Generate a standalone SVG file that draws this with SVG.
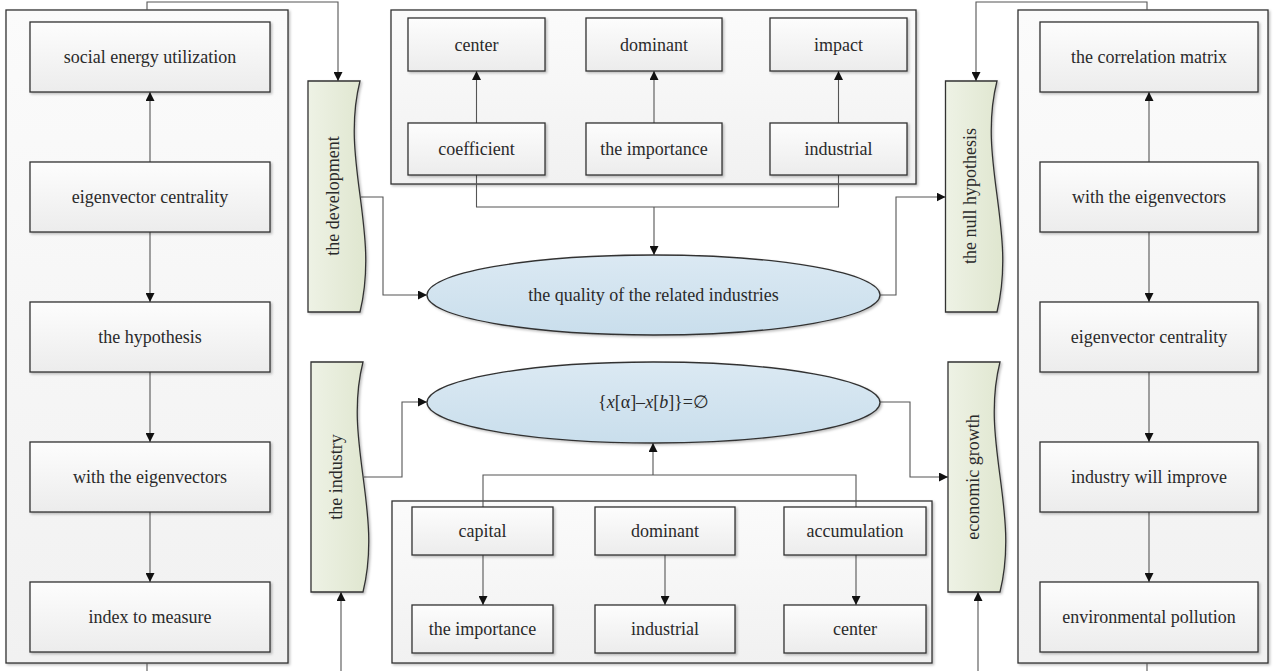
<svg xmlns="http://www.w3.org/2000/svg" width="1274" height="671" viewBox="0 0 1274 671" font-family="'Liberation Serif', 'DejaVu Serif', serif">
<style>
text{font-family:'Liberation Serif','DejaVu Serif',serif;font-size:18px;fill:#2a2a2a;text-anchor:middle;dominant-baseline:central}
.cont{fill:url(#gCont);stroke:#333;stroke-width:1.3;filter:url(#sh)}
.box{fill:url(#gBox);stroke:#333;stroke-width:1.3;filter:url(#sh)}
.wave{fill:url(#gGreen);stroke:#333;stroke-width:1.3;filter:url(#sh)}
.ell{fill:url(#gBlue);stroke:#333;stroke-width:1.3;filter:url(#sh)}
.c{fill:none;stroke:#555;stroke-width:1.1}
.a{marker-end:url(#ah)}
</style>
<defs>
<linearGradient id="gBox" x1="0" y1="0" x2="0" y2="1"><stop offset="0" stop-color="#fdfdfd"/><stop offset="1" stop-color="#ececec"/></linearGradient>
<linearGradient id="gCont" x1="0" y1="0" x2="0" y2="1"><stop offset="0" stop-color="#fbfbfb"/><stop offset="1" stop-color="#f1f1f1"/></linearGradient>
<linearGradient id="gGreen" x1="0" y1="0" x2="1" y2="0"><stop offset="0" stop-color="#eef2e5"/><stop offset="1" stop-color="#dfe6cf"/></linearGradient>
<linearGradient id="gBlue" x1="0" y1="0" x2="0" y2="1"><stop offset="0" stop-color="#dbe9f3"/><stop offset="1" stop-color="#c9deec"/></linearGradient>
<filter id="sh" x="-5%" y="-5%" width="115%" height="115%"><feDropShadow dx="1.5" dy="1.5" stdDeviation="1" flood-color="#000" flood-opacity="0.25"/></filter>
<marker id="ah" viewBox="0 0 10 10" refX="10" refY="5" markerWidth="9" markerHeight="9" markerUnits="userSpaceOnUse" orient="auto"><path d="M0,0 L10,5 L0,10 Z" fill="#111"/></marker>
</defs>

<g id="left-column">
<rect class="cont" x="6" y="10" width="282" height="653"/>
</g>
<g id="right-column">
<rect class="cont" x="1018" y="10" width="250" height="653"/>
</g>
<g id="top-group">
<rect class="cont" x="391" y="10" width="525" height="174"/>
</g>
<g id="bottom-group">
<rect class="cont" x="392" y="501" width="540" height="162"/>
</g>

<g id="connectors">
<path class="c a" d="M147,10 V2 H338 V81"/>
<path class="c" d="M147,663 V671"/>
<path class="c a" d="M150,162 V92"/>
<path class="c a" d="M150,232 V302"/>
<path class="c a" d="M150,372 V442"/>
<path class="c a" d="M150,512 V582"/>
<path class="c a" d="M361,197 H383 V295 H427"/>
<path class="c a" d="M476.5,123 V71"/>
<path class="c a" d="M654,123 V71"/>
<path class="c a" d="M838.5,123 V71"/>
<path class="c" d="M476.5,175 V207 H838.5 V175"/>
<path class="c a" d="M654,207 V255"/>
<path class="c a" d="M880,295 H896 V197 H945.5"/>
<path class="c a" d="M1147,10 V2 H976 V81"/>
<path class="c a" d="M1149,162 V92"/>
<path class="c a" d="M1149,232 V302"/>
<path class="c a" d="M1149,372 V442"/>
<path class="c a" d="M1149,512 V582"/>
<path class="c" d="M1147,663 V671"/>
<path class="c a" d="M364,477 H402 V402 H427"/>
<path class="c" d="M483,507 V475 H856 V507"/>
<path class="c a" d="M653,475 V443"/>
<path class="c a" d="M483,555 V605"/>
<path class="c a" d="M665,555 V605"/>
<path class="c a" d="M856,555 V605"/>
<path class="c a" d="M880,402 H910 V477 H948"/>
<path class="c a" d="M341,671 V592"/>
<path class="c a" d="M978,671 V592"/>
</g>

<g id="n-social"><rect class="box" x="30" y="22" width="240" height="70"/><text x="150" y="57">social energy utilization</text></g>
<g id="n-eigen-left"><rect class="box" x="30" y="162" width="240" height="70"/><text x="150" y="197">eigenvector centrality</text></g>
<g id="n-hypothesis"><rect class="box" x="30" y="302" width="240" height="70"/><text x="150" y="337">the hypothesis</text></g>
<g id="n-with-left"><rect class="box" x="30" y="442" width="240" height="70"/><text x="150" y="477">with the eigenvectors</text></g>
<g id="n-index"><rect class="box" x="30" y="582" width="240" height="70"/><text x="150" y="617">index to measure</text></g>

<g id="n-correlation"><rect class="box" x="1040" y="22" width="218" height="70"/><text x="1149" y="57">the correlation matrix</text></g>
<g id="n-with-right"><rect class="box" x="1040" y="162" width="218" height="70"/><text x="1149" y="197">with the eigenvectors</text></g>
<g id="n-eigen-right"><rect class="box" x="1040" y="302" width="218" height="70"/><text x="1149" y="337">eigenvector centrality</text></g>
<g id="n-improve"><rect class="box" x="1040" y="442" width="218" height="70"/><text x="1149" y="477">industry will improve</text></g>
<g id="n-pollution"><rect class="box" x="1040" y="582" width="218" height="70"/><text x="1149" y="617">environmental pollution</text></g>

<g id="n-center-top"><rect class="box" x="408" y="18" width="137" height="53"/><text x="476.5" y="44.5">center</text></g>
<g id="n-dominant-top"><rect class="box" x="586" y="18" width="136" height="53"/><text x="654" y="44.5">dominant</text></g>
<g id="n-impact"><rect class="box" x="770" y="18" width="137" height="53"/><text x="838.5" y="44.5">impact</text></g>
<g id="n-coefficient"><rect class="box" x="408" y="123" width="137" height="52"/><text x="476.5" y="149">coefficient</text></g>
<g id="n-importance-top"><rect class="box" x="586" y="123" width="136" height="52"/><text x="654" y="149">the importance</text></g>
<g id="n-industrial-top"><rect class="box" x="770" y="123" width="137" height="52"/><text x="838.5" y="149">industrial</text></g>

<g id="n-capital"><rect class="box" x="412" y="507" width="141" height="48"/><text x="482.5" y="531">capital</text></g>
<g id="n-dominant-bot"><rect class="box" x="595" y="507" width="140" height="48"/><text x="665" y="531">dominant</text></g>
<g id="n-accumulation"><rect class="box" x="784" y="507" width="142" height="48"/><text x="855" y="531">accumulation</text></g>
<g id="n-importance-bot"><rect class="box" x="412" y="605" width="141" height="48"/><text x="482.5" y="629">the importance</text></g>
<g id="n-industrial-bot"><rect class="box" x="595" y="605" width="140" height="48"/><text x="665" y="629">industrial</text></g>
<g id="n-center-bot"><rect class="box" x="784" y="605" width="142" height="48"/><text x="855" y="629">center</text></g>

<g id="n-development"><path class="wave" d="M308,81 H360 C340,160 380,230 360,312 H308 Z"/><text transform="translate(333,196) rotate(-90)">the development</text></g>
<g id="n-null"><path class="wave" d="M945.5,81 H997 C977,160 1017,230 997,312 H945.5 Z"/><text transform="translate(970,196) rotate(-90)">the null hypothesis</text></g>
<g id="n-industry"><path class="wave" d="M311,362 H363 C343,441 383,511 363,592 H311 Z"/><text transform="translate(336,477) rotate(-90)">the industry</text></g>
<g id="n-growth"><path class="wave" d="M948,362 H1000 C980,441 1020,511 1000,592 H948 Z"/><text transform="translate(973,477) rotate(-90)">economic growth</text></g>

<g id="n-quality"><ellipse class="ell" cx="653.5" cy="295" rx="226.5" ry="40"/><text x="653.5" y="295">the quality of the related industries</text></g>
<g id="n-formula"><ellipse class="ell" cx="653.5" cy="402.5" rx="226.5" ry="40.5"/><text x="653.5" y="402">{<tspan font-style="italic">x</tspan>[α]–<tspan font-style="italic">x</tspan>[<tspan font-style="italic">b</tspan>]}=∅</text></g>
</svg>
